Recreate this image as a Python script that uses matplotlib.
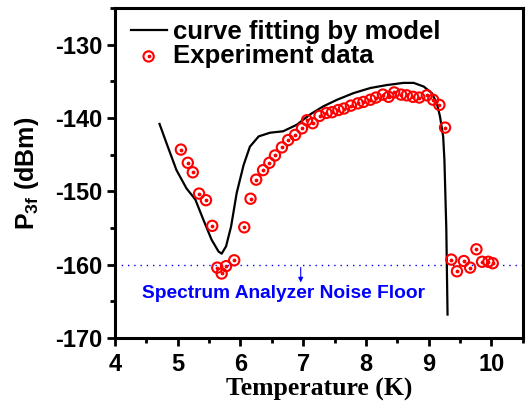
import matplotlib
matplotlib.use('Agg')
import matplotlib.pyplot as plt
from matplotlib.ticker import MultipleLocator
from matplotlib.legend_handler import HandlerTuple

# experiment data (temperature K, P3f dBm)
exp_t = [5.05, 5.16, 5.24, 5.34, 5.45, 5.55, 5.63, 5.70, 5.77, 5.90,
         6.06, 6.16, 6.25, 6.36, 6.46, 6.55, 6.66, 6.76, 6.87, 6.98,
         7.06, 7.15, 7.26, 7.37, 7.46, 7.56, 7.65, 7.76, 7.87, 7.96,
         8.07, 8.16, 8.27, 8.36, 8.45, 8.56, 8.65, 8.75, 8.85, 8.97,
         9.07, 9.17, 9.26, 9.36, 9.45, 9.56, 9.66, 9.76, 9.85, 9.95, 10.02]
exp_p = [-144.3, -146.1, -147.4, -150.3, -151.2, -154.7, -160.4, -161.2, -160.2, -159.4,
         -154.9, -151.0, -148.4, -147.1, -146.1, -145.1, -144.0, -143.0, -142.3, -141.4,
         -140.3, -140.7, -139.7, -139.3, -139.2, -138.9, -138.7, -138.3, -138.0, -137.8,
         -137.5, -137.2, -136.8, -137.1, -136.5, -136.8, -136.9, -137.1, -137.2, -136.9,
         -137.5, -138.2, -141.3, -159.3, -160.9, -159.5, -160.4, -157.9, -159.6, -159.6, -159.8]

# model curve
fit_t = [4.71, 4.82, 4.98, 5.14, 5.28, 5.41, 5.54, 5.65, 5.70, 5.77,
         5.85, 5.94, 6.05, 6.15, 6.29, 6.47, 6.68, 6.90, 7.11, 7.32,
         7.54, 7.80, 8.07, 8.33, 8.60, 8.76, 8.92, 9.05, 9.13, 9.18,
         9.23, 9.25, 9.28, 9.30]
fit_p = [-140.8, -143.4, -147.1, -149.6, -151.1, -153.9, -156.6, -158.2, -158.5, -157.5,
         -154.8, -150.2, -146.4, -143.9, -142.5, -142.0, -141.8, -140.9, -139.5, -138.4,
         -137.5, -136.6, -135.9, -135.5, -135.2, -135.2, -135.7, -136.6, -138.0, -139.8,
         -142.5, -145.7, -155.0, -166.8]

noise_floor = -160
arrow_x = 6.96

sans = 'Liberation Sans'
plt.rcParams['font.family'] = [sans, 'DejaVu Sans']
plt.rcParams['font.weight'] = 'bold'
plt.rcParams['axes.unicode_minus'] = False
plt.rcParams['mathtext.fontset'] = 'custom'
plt.rcParams['mathtext.bf'] = 'Liberation Sans:bold'

fig = plt.figure(figsize=(5.26, 4.05), dpi=100)
ax = fig.add_axes([0.2186, 0.1654, 0.7754, 0.8146])

ax.axhline(noise_floor, color='blue', lw=1, ls=(0, (1, 3.5)))
line, = ax.plot(fit_t, fit_p, color='black', lw=1.6)
circ = ax.scatter(exp_t, exp_p, s=55, facecolors='none', edgecolors='red', linewidths=1.5, zorder=3)
dots = ax.scatter(exp_t, exp_p, s=3, color='red', zorder=4)

ax.annotate('', xy=(arrow_x, -162.8), xytext=(arrow_x, noise_floor),
            arrowprops=dict(arrowstyle='-|>', color='blue', lw=0.8, mutation_scale=7))
ax.text(6.68, -163.9, 'Spectrum Analyzer Noise Floor', color='blue', fontsize=13.8,
        fontweight='bold', ha='center', va='center')

ax.set_xlim(4, 10.5)
ax.set_ylim(-170, -125)
ax.xaxis.set_major_locator(MultipleLocator(1))
ax.xaxis.set_minor_locator(MultipleLocator(0.5))
ax.yaxis.set_major_locator(MultipleLocator(10))
ax.yaxis.set_minor_locator(MultipleLocator(5))
ax.tick_params(which='major', direction='out', length=6, width=2, labelsize=17)
ax.tick_params(axis='x', which='major', pad=5)
ax.tick_params(axis='y', which='major', pad=3)
ax.tick_params(which='minor', direction='out', length=3.5, width=2)
for sp in ax.spines.values():
    sp.set_linewidth(2.2)

ax.set_xlabel('Temperature (K)', fontsize=18.5, fontweight='bold', family='Liberation Serif', labelpad=1)
ax.set_ylabel(r'P$_{\mathbf{3f}}$ (dBm)', fontsize=18, fontweight='bold', labelpad=10)

leg = ax.legend([line, (circ, dots)], ['curve fitting by model', 'Experiment data'],
                handler_map={tuple: HandlerTuple(ndivide=1, pad=0)},
                loc='upper left', bbox_to_anchor=(0.01, 1.0), frameon=False,
                prop=dict(weight='bold', size=18.5),
                handlelength=1.4, handletextpad=0.25, labelspacing=0.02, borderaxespad=0.05)

fig.savefig('out.png', dpi=100)
